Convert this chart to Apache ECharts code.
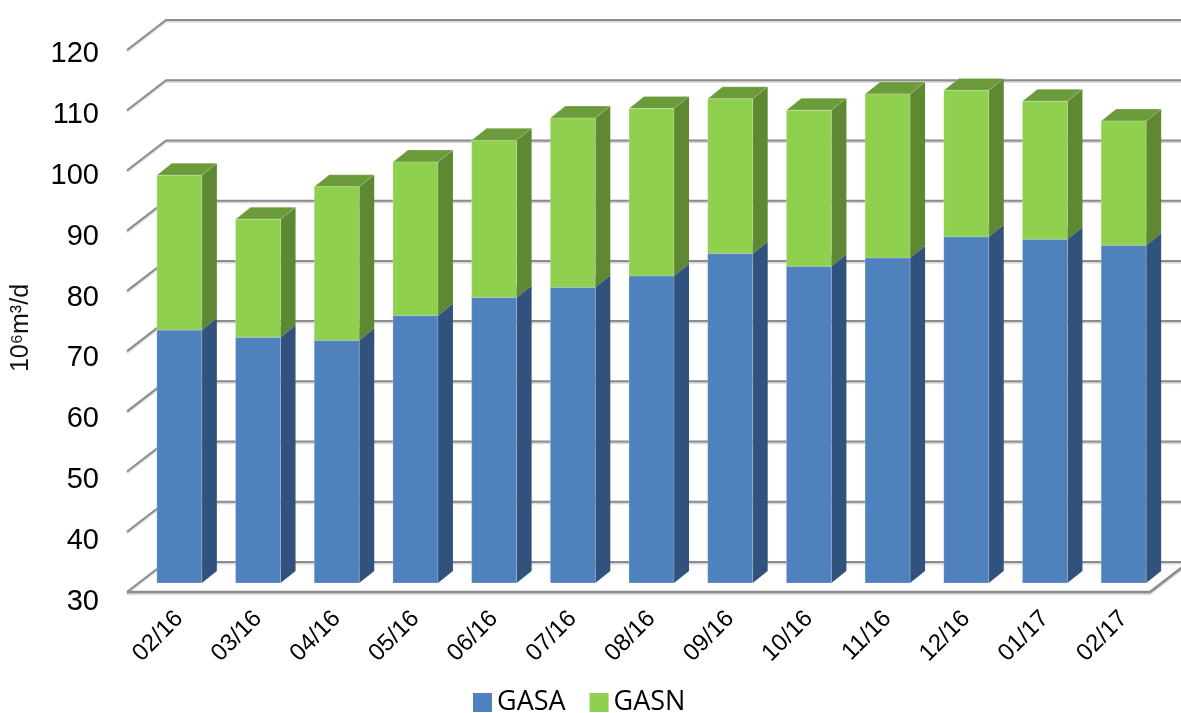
<!DOCTYPE html>
<html>
<head>
<meta charset="utf-8">
<title>GASA / GASN</title>
<script src="https://cdn.jsdelivr.net/npm/echarts@6/dist/echarts.min.js"></script>
<style>
  html, body { margin: 0; padding: 0; background: #fff; }
  #chart { width: 1181px; height: 713px; }
</style>
</head>
<body>
<div id="chart"></div>
<script>
// data (10^6 m3/d)
const months = ['02/16', '03/16', '04/16', '05/16', '06/16', '07/16', '08/16',
  '09/16', '10/16', '11/16', '12/16', '01/17', '02/17']
const gasa = [72.0, 70.8, 70.3, 74.4, 77.4, 79.1, 81.0, 84.7, 82.6, 84.0, 87.5, 87.1, 86.1]
const gasn = [25.7, 19.6, 25.5, 25.5, 26.1, 28.1, 27.8, 25.7, 25.9, 27.2, 24.3, 22.9, 20.6]
const yTicks = [30, 40, 50, 60, 70, 80, 90, 100, 110, 120]
const Y_MIN = 30, Y_MAX = 120

// fake 3d look
const DEPTH = [15, -12]       // bar depth offset
const WALL_FRONT = [-13, 9]   // front edge of the floor / left wall
const WALL_BACK = [26, -21]   // back wall
const GRID_COLOR = '#8c8c8c'

const BLUE = { front: '#4f81bd', side: '#32527e', top: '#3f6a9c' }
const GREEN = { front: '#8fd04f', side: '#5e8831', top: '#6c9b3b' }

function box(api, base, top, c) {
  const cat = api.value(0)
  const p0 = api.coord([cat, base])
  const p1 = api.coord([cat, top])
  const w = api.size([1, 0])[0] * 0.572
  const x0 = p0[0] - w / 2, x1 = x0 + w
  const y0 = p0[1], y1 = p1[1]
  const dx = DEPTH[0], dy = DEPTH[1]
  return {
    type: 'group',
    children: [
      { type: 'polygon', shape: { points: [[x1, y0], [x1 + dx, y0 + dy], [x1 + dx, y1 + dy], [x1, y1]] },
        style: { fill: c.side } },
      { type: 'polygon', shape: { points: [[x0, y1], [x1, y1], [x1 + dx, y1 + dy], [x0 + dx, y1 + dy]] },
        style: { fill: c.top, stroke: 'rgba(255,255,255,0.18)', lineWidth: 1 } },
      { type: 'rect', shape: { x: x0, y: y1, width: w, height: y0 - y1 },
        style: { fill: c.front, stroke: 'rgba(255,255,255,0.22)', lineWidth: 1 } }
    ]
  }
}

function renderWall(params, api) {
  const y = api.coord([0, api.value(1)])[1]
  const L = params.coordSys.x
  const R = L + params.coordSys.width
  const f = WALL_FRONT, b = WALL_BACK
  const lineStyle = {
    stroke: GRID_COLOR, lineWidth: 2, fill: null,
    shadowColor: 'rgba(0,0,0,0.18)', shadowOffsetY: 1.5, shadowBlur: 1
  }
  const children = [
    { type: 'polyline', shape: { points: [[L + f[0], y + f[1]], [L + b[0], y + b[1]], [R + b[0], y + b[1]]] },
      style: lineStyle }
  ]
  if (api.value(1) === Y_MIN) {
    children.push({ type: 'polyline',
      shape: { points: [[L + f[0], y + f[1]], [R + f[0], y + f[1]], [R + b[0], y + b[1]]] },
      style: Object.assign({}, lineStyle, { lineWidth: 2.5 }) })
  }
  return { type: 'group', children: children }
}

const chart = echarts.init(document.getElementById('chart'))

chart.setOption({
  animation: false,
  textStyle: { fontFamily: '"Liberation Sans", Arial, sans-serif' },
  grid: [
    { left: 140, right: 18, top: 41, bottom: 130 },   // bar front plane
    { left: 140, right: 18, top: 54, bottom: 111 }    // value labels
  ],
  xAxis: [
    {
      type: 'category', gridIndex: 0, data: months,
      axisLine: { show: false }, axisTick: { show: false },
      axisLabel: { interval: 0, rotate: 45, margin: 32, fontSize: 24, color: '#000' }
    },
    { type: 'category', gridIndex: 1, data: months, show: false }
  ],
  yAxis: [
    { type: 'value', gridIndex: 0, min: Y_MIN, max: Y_MAX, interval: 10, show: false },
    {
      type: 'value', gridIndex: 1, min: Y_MIN, max: Y_MAX, interval: 10,
      axisLine: { show: false }, axisTick: { show: false }, splitLine: { show: false },
      axisLabel: { fontSize: 29, color: '#000', margin: 41 },
      name: '10⁶m³/d', nameLocation: 'middle', nameRotate: 90, nameGap: 106,
      nameTextStyle: { fontSize: 25, color: '#111' }
    }
  ],
  legend: {
    data: ['GASA', 'GASN'],
    left: 473, top: 689, padding: 0,
    icon: 'rect', itemWidth: 19, itemHeight: 19, itemGap: 24,
    textStyle: { fontFamily: '"Open Sans", sans-serif', fontSize: 27, color: '#000' }
  },
  series: [
    {
      type: 'custom', name: 'walls', xAxisIndex: 0, yAxisIndex: 0, z: 1,
      silent: true,
      data: yTicks.map(function (v) { return [0, v] }),
      renderItem: renderWall
    },
    {
      type: 'custom', name: 'GASA', xAxisIndex: 0, yAxisIndex: 0, z: 2,
      itemStyle: { color: BLUE.front },
      data: months.map(function (m, i) { return [i, gasa[i]] }),
      renderItem: function (params, api) {
        return box(api, Y_MIN, api.value(1), BLUE)
      }
    },
    {
      type: 'custom', name: 'GASN', xAxisIndex: 0, yAxisIndex: 0, z: 3,
      itemStyle: { color: GREEN.front },
      encode: { x: 0, y: 2 },
      data: months.map(function (m, i) { return [i, gasa[i], gasa[i] + gasn[i]] }),
      renderItem: function (params, api) {
        return box(api, api.value(1), api.value(2), GREEN)
      }
    }
  ]
})

window.addEventListener('resize', function () { chart.resize() })
</script>
</body>
</html>
